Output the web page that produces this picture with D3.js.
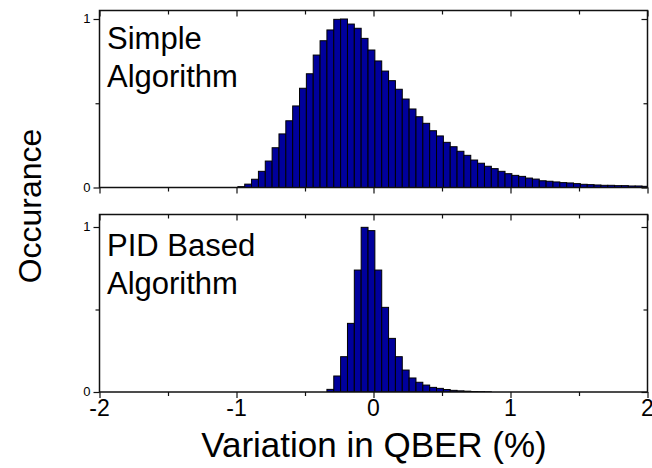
<!DOCTYPE html>
<html><head><meta charset="utf-8">
<script src="https://cdn.jsdelivr.net/npm/d3@7/dist/d3.min.js"></script>
<style>
html,body{margin:0;padding:0;background:#fff;}
svg{display:block;font-family:"Liberation Sans",Arial,sans-serif;}
</style></head>
<body>
<svg id="chart" width="652" height="468"></svg>
<script>
const binWidth = 0.05;
const topBins = [-0.99,-0.94,-0.89,-0.84,-0.79,-0.74,-0.69,-0.64,-0.59,-0.54,-0.49,-0.44,-0.39,-0.34,-0.29,-0.24,-0.19,-0.14,-0.09,-0.04,0.01,0.06,0.11,0.16,0.21,0.26,0.31,0.36,0.41,0.46,0.51,0.56,0.61,0.66,0.71,0.76,0.81,0.86,0.91,0.96,1.01,1.06,1.11,1.16,1.21,1.26,1.31,1.36,1.41,1.46,1.51,1.56,1.61,1.66,1.71,1.76,1.81,1.86,1.91,1.96];
const topValues = [0.005,0.02,0.049,0.096,0.157,0.236,0.318,0.396,0.484,0.589,0.675,0.786,0.871,0.935,0.998,1.0,0.970,0.945,0.885,0.816,0.751,0.691,0.634,0.583,0.525,0.466,0.420,0.381,0.337,0.306,0.268,0.242,0.215,0.191,0.163,0.144,0.126,0.112,0.096,0.082,0.072,0.066,0.056,0.05,0.04,0.037,0.033,0.029,0.027,0.023,0.019,0.017,0.015,0.013,0.013,0.011,0.011,0.009,0.009,0.007];
const bottomBins = [-0.34,-0.29,-0.24,-0.19,-0.14,-0.09,-0.04,0.01,0.06,0.11,0.16,0.21,0.26,0.31,0.36,0.41,0.46,0.51,0.56,0.61,0.66,0.71,0.76,0.81];
const bottomValues = [0.016,0.097,0.214,0.416,0.739,0.998,0.978,0.739,0.513,0.325,0.214,0.133,0.085,0.059,0.042,0.028,0.022,0.015,0.010,0.007,0.005,0.003,0.002,0.001];
const xMajorTicks = [-2,-1,0,1,2];
const xMinorTicks = [-1.5,-0.5,0.5,1.5];
const yMajorTicks = [0,1];
const yMinorTicks = [0.5];
const panelLabels = [["Simple","Algorithm"],["PID Based","Algorithm"]];
const xTitle = "Variation in QBER (%)";
const yTitle = "Occurance";

const svg = d3.select("#chart");
const x = d3.scaleLinear().domain([-2,2]).range([99.5,647.5]);

const panels = [
  {bins: topBins, values: topValues, frameTop: 10.5, y: d3.scaleLinear().domain([0,1]).range([187.5,19]), labels: panelLabels[0], labelY: 49},
  {bins: bottomBins, values: bottomValues, frameTop: 214.5, y: d3.scaleLinear().domain([0,1]).range([392,227]), labels: panelLabels[1], labelY: 256}
];

const MAJ = 6, MIN = 4;
const axisColor = "#111";

panels.forEach((p, i) => {
  const g = svg.append("g");
  const y0 = p.y(0);
  const clipId = "clip" + i;
  svg.append("clipPath").attr("id", clipId).append("rect")
    .attr("x", x(-2)).attr("y", p.frameTop).attr("width", x(2) - x(-2)).attr("height", y0 - p.frameTop);

  const data = p.bins.map((b, k) => ({b, v: p.values[k]}));
  g.append("g").attr("clip-path", `url(#${clipId})`)
    .selectAll("rect").data(data).join("rect")
    .attr("x", d => x(d.b))
    .attr("width", d => x(d.b + binWidth) - x(d.b))
    .attr("y", d => p.y(d.v))
    .attr("height", d => y0 - p.y(d.v))
    .attr("fill", "#00009c")
    .attr("stroke", "#000")
    .attr("stroke-width", 1);

  g.append("rect")
    .attr("x", x(-2)).attr("y", p.frameTop)
    .attr("width", x(2) - x(-2)).attr("height", y0 - p.frameTop)
    .attr("fill", "none").attr("stroke", axisColor).attr("stroke-width", 1.5);

  const xb = d3.axisBottom(x).tickValues(xMajorTicks).tickSize(MAJ).tickFormat("");
  const xbm = d3.axisBottom(x).tickValues(xMinorTicks).tickSize(MIN).tickFormat("");
  g.append("g").attr("transform", `translate(0,${y0})`).call(xb);
  g.append("g").attr("transform", `translate(0,${y0})`).call(xbm);
  const xt = d3.axisBottom(x).tickValues(xMajorTicks).tickSize(MAJ).tickFormat("");
  const xtm = d3.axisBottom(x).tickValues(xMinorTicks).tickSize(MIN).tickFormat("");
  g.append("g").attr("transform", `translate(0,${p.frameTop})`).call(xt);
  g.append("g").attr("transform", `translate(0,${p.frameTop})`).call(xtm);

  const yl = d3.axisLeft(p.y).tickValues(yMajorTicks).tickSize(MAJ).tickPadding(3).tickFormat(d3.format("d"));
  const ylm = d3.axisLeft(p.y).tickValues(yMinorTicks).tickSize(MIN).tickFormat("");
  const gl = g.append("g").attr("transform", `translate(${x(-2)},0)`).call(yl);
  g.append("g").attr("transform", `translate(${x(-2)},0)`).call(ylm);
  gl.selectAll("text").attr("font-size", 13).attr("dy", "0.3em").attr("font-family", "Liberation Sans, Arial, sans-serif").attr("fill", "#000");
  const yr = d3.axisLeft(p.y).tickValues(yMajorTicks).tickSize(MAJ).tickFormat("");
  const yrm = d3.axisLeft(p.y).tickValues(yMinorTicks).tickSize(MIN).tickFormat("");
  g.append("g").attr("transform", `translate(${x(2)},0)`).call(yr);
  g.append("g").attr("transform", `translate(${x(2)},0)`).call(yrm);

  g.selectAll(".domain").remove();
  g.selectAll(".tick line").attr("stroke", axisColor).attr("stroke-width", 1.2);

  p.labels.forEach((t, k) => {
    g.append("text").attr("x", 107).attr("y", p.labelY + k * 38)
      .attr("font-size", 31).attr("fill", "#000").text(t);
  });

  if (i === 1) {
    g.selectAll("text.xl").data(xMajorTicks).join("text")
      .attr("class", "xl")
      .attr("x", d => x(d)).attr("y", 416)
      .attr("text-anchor", "middle").attr("font-size", 23).attr("fill", "#000")
      .text(d => d === 0 ? "0" : (d < 0 ? "-" + Math.abs(d) : String(d)));
  }
});

svg.append("text").attr("x", 374).attr("y", 457).attr("text-anchor", "middle")
  .attr("font-size", 35).attr("fill", "#000").text(xTitle);
svg.append("text").attr("transform", "translate(41,206) rotate(-90)").attr("text-anchor", "middle")
  .attr("font-size", 32).attr("fill", "#000").text(yTitle);
</script>
</body></html>
